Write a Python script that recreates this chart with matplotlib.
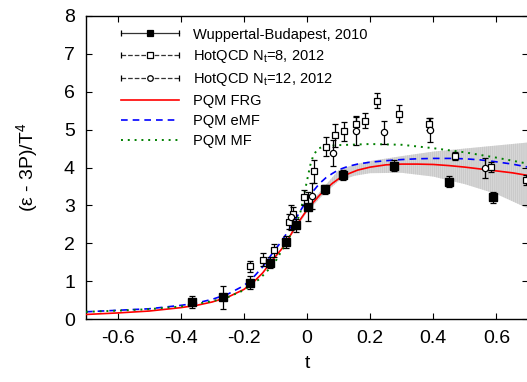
import numpy as np
import matplotlib
matplotlib.use("Agg")
import matplotlib.pyplot as plt
from matplotlib.lines import Line2D
from matplotlib.legend_handler import HandlerBase

plt.rcParams['font.family'] = ['Liberation Sans', 'DejaVu Sans']
plt.rcParams['mathtext.fontset'] = 'custom'
plt.rcParams['mathtext.rm'] = 'Liberation Sans'
plt.rcParams['mathtext.default'] = 'regular'
plt.rcParams['hatch.linewidth'] = 0.4

# lattice data: reduced temperature t, trace anomaly, error
wb_t = [-0.365, -0.267, -0.179, -0.116, -0.065, -0.034, 0.004, 0.056, 0.113, 0.275, 0.451, 0.590]
wb_v = [0.45, 0.57, 0.96, 1.49, 2.03, 2.48, 2.96, 3.43, 3.81, 4.05, 3.63, 3.21]
wb_e = [0.17, 0.31, 0.18, 0.15, 0.16, 0.17, 0.38, 0.12, 0.13, 0.15, 0.15, 0.14]

nt8_t = [-0.181, -0.140, -0.106, -0.057, -0.044, -0.011, 0.022, 0.059, 0.089, 0.117,
         0.156, 0.185, 0.223, 0.291, 0.388, 0.469, 0.584, 0.693]
nt8_v = [1.39, 1.57, 1.81, 2.57, 2.77, 3.21, 3.90, 4.55, 4.85, 4.96,
         5.15, 5.23, 5.76, 5.42, 5.15, 4.31, 4.01, 3.67]
nt8_e = [0.14, 0.17, 0.16, 0.20, 0.20, 0.20, 0.31, 0.25, 0.30, 0.25,
         0.20, 0.20, 0.20, 0.22, 0.15, 0.10, 0.14, 0.12]

nt12_t = [-0.050, 0.015, 0.082, 0.156, 0.245, 0.390, 0.563]
nt12_v = [2.68, 3.25, 4.38, 4.97, 4.93, 4.99, 3.98]
nt12_e = [0.33, 0.35, 0.34, 0.37, 0.31, 0.31, 0.26]

# model curves
frg_t = [-0.70, -0.60, -0.50, -0.40, -0.35, -0.30, -0.25, -0.20, -0.17, -0.14, -0.11, -0.08,
         -0.06, -0.04, -0.02, 0.00, 0.02, 0.04, 0.06, 0.08, 0.10, 0.13, 0.16, 0.20, 0.25,
         0.30, 0.35, 0.40, 0.45, 0.50, 0.55, 0.60, 0.65, 0.70]
frg_v = [0.12, 0.16, 0.21, 0.30, 0.36, 0.45, 0.58, 0.78, 0.97, 1.22, 1.55, 1.85,
         2.10, 2.39, 2.64, 2.88, 3.08, 3.27, 3.43, 3.58, 3.70, 3.83, 3.93, 4.01, 4.07,
         4.09, 4.09, 4.08, 4.05, 4.01, 3.96, 3.91, 3.86, 3.79]

emf_t = frg_t
emf_v = [0.19, 0.23, 0.27, 0.36, 0.42, 0.52, 0.66, 0.88, 1.10, 1.38, 1.73, 2.06,
         2.32, 2.58, 2.87, 3.14, 3.38, 3.58, 3.73, 3.84, 3.94, 4.03, 4.09, 4.14, 4.18,
         4.21, 4.23, 4.24, 4.24, 4.23, 4.20, 4.15, 4.09, 4.01]

mf_t = [-0.70, -0.60, -0.50, -0.40, -0.30, -0.25, -0.20, -0.15, -0.12, -0.10, -0.086,
        -0.06, -0.044, -0.03, -0.02, -0.01, 0.00, 0.01, 0.02, 0.035, 0.06, 0.10, 0.20,
        0.30, 0.40, 0.50, 0.60, 0.70]
mf_v = [0.19, 0.22, 0.26, 0.33, 0.47, 0.58, 0.76, 1.06, 1.32, 1.52, 1.72,
        2.07, 2.40, 2.62, 2.85, 3.25, 3.65, 4.05, 4.32, 4.50, 4.57, 4.59, 4.62,
        4.60, 4.51, 4.40, 4.26, 4.10]

# uncertainty band
band_t = [-0.05, 0.00, 0.05, 0.10, 0.15, 0.20, 0.30, 0.40, 0.50, 0.60, 0.70]
band_lo = [2.20, 2.82, 3.27, 3.64, 3.78, 3.85, 3.86, 3.76, 3.56, 3.30, 2.92]
band_hi = [2.25, 2.95, 3.45, 3.93, 4.08, 4.17, 4.30, 4.42, 4.50, 4.58, 4.66]


class ErrHandler(HandlerBase):
    # gnuplot style key entry: line with end caps and marker in the middle
    def create_artists(self, legend, orig, xdescent, ydescent, width, height, fontsize, trans):
        y = height / 2 - ydescent
        x0, x1 = -xdescent, width - xdescent
        line = Line2D([x0, x1], [y, y], color='#333333', lw=0.9, ls=orig.get_linestyle())
        caps = Line2D([x0, x1], [y, y], color='black', ls='none', marker='|', ms=5, mew=0.9)
        mk = Line2D([(x0 + x1) / 2], [y], color='black', ls='none', marker=orig.get_marker(),
                    ms=orig.get_markersize(), mfc=orig.get_markerfacecolor(), mec='black', mew=0.9)
        for a in (line, caps, mk):
            a.set_transform(trans)
        return [line, caps, mk]


fig = plt.figure(figsize=(5.27, 3.82), dpi=100)
ax = fig.add_axes([86 / 527, 63 / 382, 442 / 527, 303 / 382])

ax.fill_between(band_t, band_lo, band_hi, facecolor='#d6d6d6', edgecolor='#c2c2c2',
                hatch='||||||||', lw=0, zorder=1)

ax.plot(frg_t, frg_v, color='#ff0000', lw=1.2, zorder=3)
ax.plot(emf_t, emf_v, color='#0000ff', lw=1.2, ls=(0, (4, 3)), zorder=3)
ax.plot(mf_t, mf_v, color='#008000', lw=1.4, ls=(0, (1, 2.5)), zorder=3)

ax.errorbar(nt8_t, nt8_v, yerr=nt8_e, fmt='s', ms=5, mfc='white', mec='black', mew=0.9,
            ecolor='black', elinewidth=0.9, capsize=2.5, capthick=0.9, zorder=4)
ax.errorbar(nt12_t, nt12_v, yerr=nt12_e, fmt='o', ms=4.5, mfc='white', mec='black', mew=0.9,
            ecolor='black', elinewidth=0.9, capsize=2.5, capthick=0.9, zorder=4)
ax.errorbar(wb_t, wb_v, yerr=wb_e, fmt='s', ms=6, mfc='black', mec='black',
            ecolor='black', elinewidth=0.9, capsize=2.5, capthick=0.9, zorder=5)

ax.set_xlim(-0.7, 0.7)
ax.set_ylim(0, 8)
ax.set_xticks([-0.6, -0.4, -0.2, 0, 0.2, 0.4, 0.6])
ax.set_xticklabels(['-0.6', '-0.4', '-0.2', '0', '0.2', '0.4', '0.6'])
ax.set_yticks(range(0, 9))
ax.tick_params(direction='in', length=4.5, width=0.8, top=True, right=True,
               labelsize=14, pad=8)
for s in ax.spines.values():
    s.set_linewidth(1.0)

ax.set_xlabel('t', fontsize=14, labelpad=6)
ax.set_ylabel('(ε - 3P)/T$^4$', fontsize=14, labelpad=17)

handles = [
    Line2D([], [], ls='-', marker='s', ms=5, mfc='black'),
    Line2D([], [], ls=(0, (7, 4)), marker='s', ms=4, mfc='white'),
    Line2D([], [], ls=(0, (3, 5)), marker='o', ms=4, mfc='white'),
    Line2D([], [], color='#ff0000', lw=1.2),
    Line2D([], [], color='#0000ff', lw=1.2, ls=(0, (4, 3))),
    Line2D([], [], color='#008000', lw=1.4, ls=(0, (1, 2.5))),
]
labels = ['Wuppertal-Budapest, 2010', 'HotQCD N$_t$=8, 2012', 'HotQCD N$_t$=12, 2012',
          'PQM FRG', 'PQM eMF', 'PQM MF']
hmap = {h: ErrHandler() for h in handles[:3]}
ax.legend(handles, labels, handler_map=hmap, loc='upper left',
          bbox_to_anchor=(35 / 442, 0.962), frameon=False, fontsize=10.5,
          handlelength=4.0, handletextpad=0.95, labelspacing=0.42,
          borderpad=0, borderaxespad=0)

fig.savefig('out.png', dpi=100)
